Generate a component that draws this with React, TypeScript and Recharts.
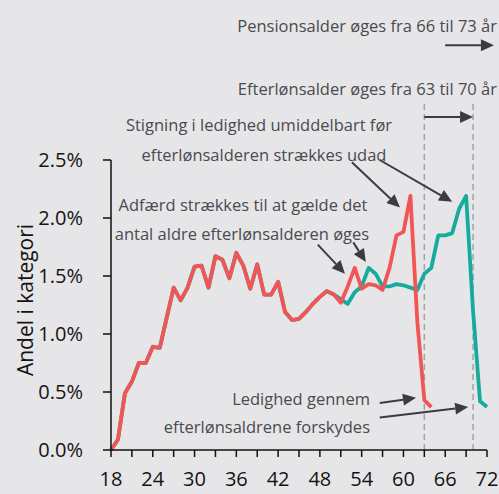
import React from 'react';
import { LineChart, Line, XAxis, YAxis, ReferenceLine } from 'recharts';

const ages = [18, 19, 20, 21, 22, 23, 24, 25, 26, 27, 28, 29, 30, 31, 32, 33, 34, 35, 36, 37, 38, 39, 40, 41, 42, 43, 44, 45, 46, 47, 48, 49, 50, 51, 52, 53, 54, 55, 56, 57, 58, 59, 60, 61, 62, 63, 64, 65, 66, 67, 68, 69, 70, 71, 72];

// før reform (rød) – stopper ved 64
const beforeReform = [0.0, 0.09, 0.49, 0.59, 0.75, 0.75, 0.89, 0.88, 1.14, 1.4, 1.29, 1.4, 1.58, 1.59, 1.4, 1.67, 1.64, 1.48, 1.7, 1.59, 1.39, 1.6, 1.34, 1.34, 1.45, 1.19, 1.12, 1.13, 1.19, 1.26, 1.32, 1.37, 1.34, 1.27, 1.41, 1.57, 1.39, 1.43, 1.42, 1.38, 1.57, 1.85, 1.88, 2.19, 1.1, 0.43, 0.37];

// efter reform (grøn)
const afterReform = [0.0, 0.09, 0.49, 0.59, 0.75, 0.75, 0.89, 0.88, 1.14, 1.4, 1.29, 1.4, 1.58, 1.59, 1.4, 1.67, 1.64, 1.48, 1.7, 1.59, 1.39, 1.6, 1.34, 1.34, 1.45, 1.19, 1.12, 1.13, 1.19, 1.26, 1.32, 1.37, 1.34, 1.3, 1.26, 1.36, 1.41, 1.57, 1.52, 1.41, 1.41, 1.43, 1.42, 1.4, 1.38, 1.52, 1.57, 1.85, 1.85, 1.87, 2.08, 2.19, 1.2, 0.42, 0.37];

const xTicks = [18, 21, 24, 27, 30, 33, 36, 39, 42, 45, 48, 51, 54, 57, 60, 63, 66, 69, 72];
const xLabels = [18, 24, 30, 36, 42, 48, 54, 60, 66, 72];
const yTicks = [0, 0.5, 1.0, 1.5, 2.0, 2.5];

const retirementAges = [63, 70];

// pile i data-koordinater: [fra alder, fra værdi, til alder, til værdi]
const arrows: [number, number, number, number][] = [
    [66, 3.49, 73, 3.49],
    [63, 2.87, 70, 2.87],
    [52.6, 2.48, 59.5, 2.09],
    [56.6, 2.5, 67.0, 2.14],
    [47.7, 1.77, 51.6, 1.52],
    [52.8, 1.79, 54.6, 1.62],
    [56.6, 0.405, 61.8, 0.45],
    [56.6, 0.28, 69.3, 0.37],
];

const notes = [
    { text: 'Pensionsalder øges fra 66 til 73 år', x: 497, y: 25, anchor: 'end' },
    { text: 'Efterlønsalder øges fra 63 til 70 år', x: 497, y: 88, anchor: 'end' },
    { text: 'Stigning i ledighed umiddelbart før', x: 259, y: 124, anchor: 'middle' },
    { text: 'efterlønsalderen strækkes udad', x: 264, y: 154, anchor: 'middle' },
    { text: 'Adfærd strækkes til at gælde det', x: 243, y: 204, anchor: 'middle' },
    { text: 'antal aldre efterlønsalderen øges', x: 242, y: 233, anchor: 'middle' },
    { text: 'Ledighed gennem', x: 370, y: 398, anchor: 'end' },
    { text: 'efterlønsaldrene forskydes', x: 370, y: 426, anchor: 'end' },
];

const RED = '#f25555';
const TEAL = '#16ab9c';
const ARROW = '#3b3b42';
const FONT = '"Open Sans", "Noto Sans", sans-serif';

const data = ages.map((age, i) => ({
    age,
    before: i < beforeReform.length ? beforeReform[i] : null,
    after: afterReform[i],
}));

const ArrowShape = (props: any) => {
    const { x1, y1, x2, y2 } = props;
    const dx = x2 - x1;
    const dy = y2 - y1;
    const len = Math.sqrt(dx * dx + dy * dy) || 1;
    const ux = dx / len;
    const uy = dy / len;
    const head = 13;
    const half = 6;
    const bx = x2 - ux * head;
    const by = y2 - uy * head;
    const pts = `${x2},${y2} ${bx - uy * half},${by + ux * half} ${bx + uy * half},${by - ux * half}`;
    return (
        <g>
            <line x1={x1} y1={y1} x2={bx} y2={by} stroke={ARROW} strokeWidth={2} />
            <polygon points={pts} fill={ARROW} />
        </g>
    );
};

const App: React.FC = () => {
    return (
        <div style={{ position: 'absolute', left: 0, top: 0, width: 499, height: 494, background: '#e6e6e8', fontFamily: FONT }}>
            <LineChart width={499} height={494} data={data} margin={{ top: 160, right: 12, bottom: 4, left: 0 }}>
                <XAxis
                    dataKey="age"
                    type="number"
                    domain={[18, 72]}
                    ticks={xTicks}
                    tickFormatter={(v: number) => (xLabels.includes(v) ? String(v) : '')}
                    tickSize={7}
                    tickMargin={15}
                    height={40}
                    stroke="#111"
                    strokeWidth={1.5}
                    tick={{ fill: '#141414', fontSize: 20, fontFamily: FONT }}
                    interval={0}
                />
                <YAxis
                    type="number"
                    domain={[0, 2.5]}
                    ticks={yTicks}
                    tickFormatter={(v: number) => `${v.toFixed(1)}%`}
                    tickSize={8}
                    tickMargin={20}
                    width={111}
                    stroke="#111"
                    strokeWidth={1.5}
                    tick={{ fill: '#141414', fontSize: 20, fontFamily: FONT }}
                    interval={0}
                />
                {retirementAges.map((a) => (
                    <ReferenceLine
                        key={`ret-${a}`}
                        segment={[{ x: a, y: 0 }, { x: a, y: 3.02 }]}
                        stroke="#a3a3a6"
                        strokeWidth={1.5}
                        strokeDasharray="6 4"
                        ifOverflow="visible"
                    />
                ))}
                <Line dataKey="after" stroke={TEAL} strokeWidth={3.8} dot={false} isAnimationActive={false} strokeLinejoin="round" />
                <Line dataKey="before" stroke={RED} strokeWidth={3.8} dot={false} isAnimationActive={false} connectNulls={false} strokeLinejoin="round" />
                {arrows.map(([ax, ay, bx, by], i) => (
                    <ReferenceLine
                        key={`arrow-${i}`}
                        segment={[{ x: ax, y: ay }, { x: bx, y: by }]}
                        ifOverflow="visible"
                        shape={ArrowShape}
                    />
                ))}
            </LineChart>
            <svg width={499} height={494} style={{ position: 'absolute', left: 0, top: 0, pointerEvents: 'none' }}>
                {notes.map((n, i) => (
                    <text key={i} x={n.x} y={n.y} textAnchor={n.anchor as any} dominantBaseline="central" fontSize={16.5} fill="#4a4a4f" fontFamily={FONT}>
                        {n.text}
                    </text>
                ))}
                <text x={25} y={300} transform="rotate(-90 25 300)" textAnchor="middle" dominantBaseline="central" fontSize={21} fill="#141414" fontFamily={FONT}>
                    Andel i kategori
                </text>
            </svg>
        </div>
    );
};

export default App;
